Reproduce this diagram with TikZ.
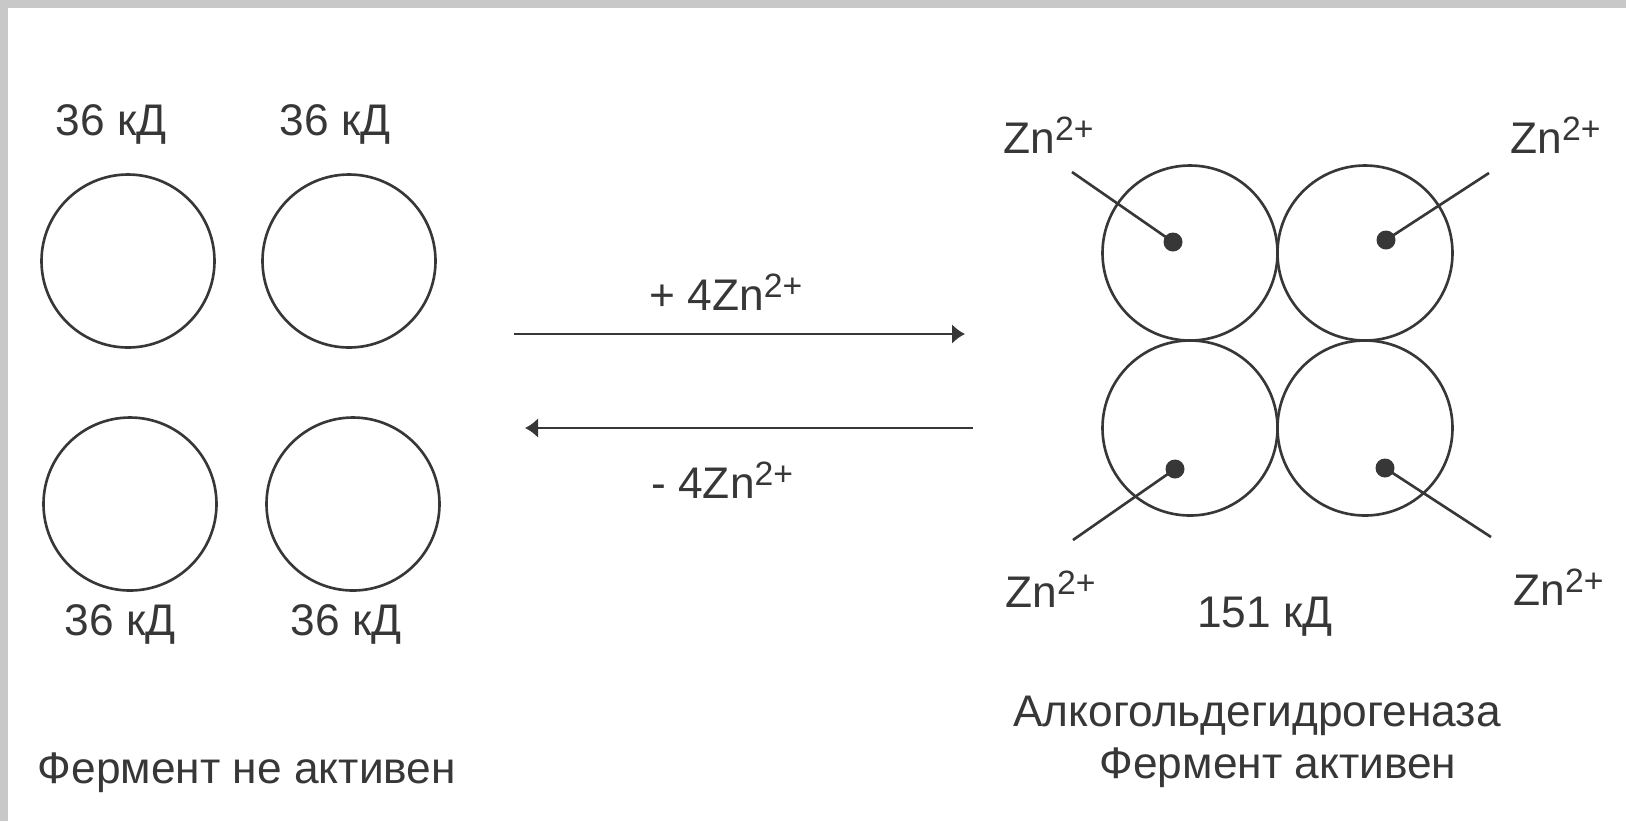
\documentclass[tikz,border=0pt]{standalone}
\usepackage{fontspec}
\setmainfont{Liberation Sans}
\usetikzlibrary{arrows.meta,positioning}
\definecolor{inkgray}{RGB}{55,55,55}
\definecolor{scanedge}{RGB}{200,200,200}
\newcommand{\zn}{Zn\raisebox{0.55ex}{\fontsize{9.6}{10}\selectfont 2+}}

\begin{document}
\begin{tikzpicture}[x=0.1mm, y=-0.1mm, color=inkgray, line width=0.75pt,
  subunit/.style={circle, draw, minimum size=17.3mm, inner sep=0pt},
  ion/.style={circle, fill=inkgray, minimum size=1.9mm, inner sep=0pt},
  lbl/.style={font=\fontsize{12.6}{15}\selectfont, inner sep=0pt, anchor=base},
  react/.style={-{Latex[length=1.3mm,width=2mm]}}]
  \useasboundingbox (0,0) rectangle (1626,821);
  \fill[scanedge] (0,0) rectangle (1626,8);
  \fill[scanedge] (0,0) rectangle (8,821);
  % inactive subunits
  \node[subunit] (a1) at (128,261) {};
  \node[subunit] (a2) at (349,261) {};
  \node[subunit] (a3) at (130,504) {};
  \node[subunit] (a4) at (353,504) {};
  \node[lbl] (m1) at (111,135) {36 кД};
  \node[lbl] (m2) at (335,135) {36 кД};
  \node[lbl] (m3) at (120,635) {36 кД};
  \node[lbl] (m4) at (346,635) {36 кД};
  \node[lbl] (inact) at (247,783) {Фермент не активен};
  % reaction arrows
  \coordinate (f0) at (514,334); \coordinate (f1) at (965,334);
  \coordinate (b0) at (973,428); \coordinate (b1) at (525,428);
  \draw[react] (f0) -- (f1);
  \draw[react] (b0) -- (b1);
  \node[lbl, anchor=base west] (plus) at (648,310) {+ 4\zn};
  \node[lbl, anchor=base west] (minus) at (650,498) {- 4\zn};
  % active tetramer
  \node[subunit, minimum size=17.5mm] (b1c) at (1190,253) {};
  \node[subunit, minimum size=17.5mm] (b2c) at (1365,253) {};
  \node[subunit, minimum size=17.5mm] (b3c) at (1190,428) {};
  \node[subunit, minimum size=17.5mm] (b4c) at (1365,428) {};
  \node[ion] (z1) at (1173,242) {};
  \node[ion] (z2) at (1386,240) {};
  \node[ion] (z3) at (1175,469) {};
  \node[ion] (z4) at (1385,468) {};
  \coordinate (p1) at (1072,172); \coordinate (p2) at (1489,173);
  \coordinate (p3) at (1073,540); \coordinate (p4) at (1491,537);
  \draw (p1) -- (z1.center);
  \draw (p2) -- (z2.center);
  \draw (p3) -- (z3.center);
  \draw (p4) -- (z4.center);
  \node[lbl, anchor=base west] (n1) at (1002,153) {\zn};
  \node[lbl, anchor=base west] (n2) at (1509,153) {\zn};
  \node[lbl, anchor=base west] (n3) at (1004,607) {\zn};
  \node[lbl, anchor=base west] (n4) at (1512,605) {\zn};
  \node[lbl] (mass) at (1265,627) {151 кД};
  \node[lbl] (name) at (1257,726) {Алкогольдегидрогеназа};
  \node[lbl] (act) at (1278,778) {Фермент активен};
\end{tikzpicture}
\end{document}
